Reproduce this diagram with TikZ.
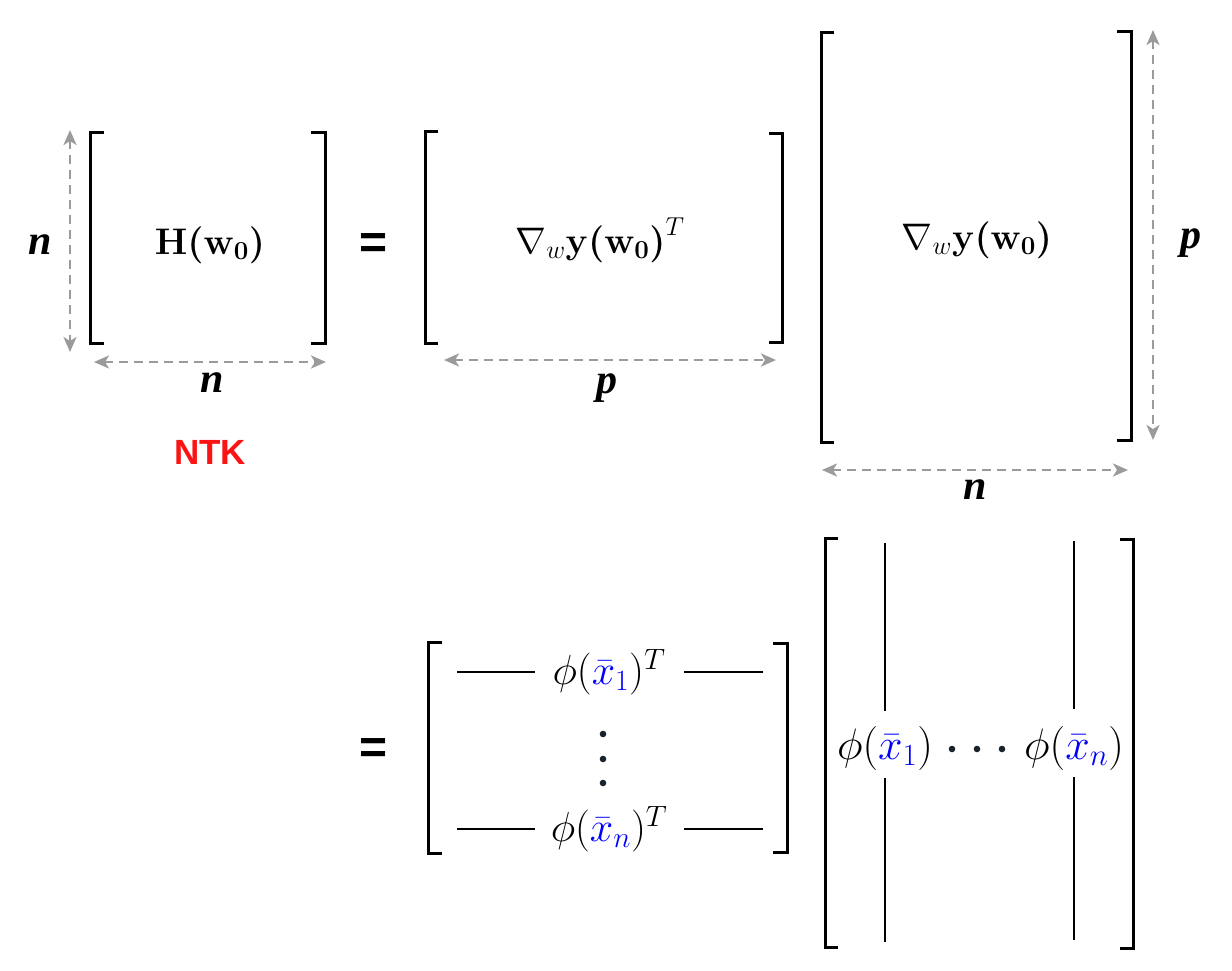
\RequirePackage{fix-cm}
\documentclass[tikz,border=0pt]{standalone}
\usepackage{amsmath}
\usepackage{fontspec}
\setmainfont{Liberation Serif}
\newfontfamily\ntkfont{Liberation Sans}
\usetikzlibrary{arrows.meta}
\definecolor{dimgray}{RGB}{155,155,155}
\definecolor{dotcol}{RGB}{25,35,45}
\definecolor{ntkred}{RGB}{250,20,20}
\newcommand{\Hw}{\boldsymbol{\mathbf{H}(\mathbf{w}_{\mathbf{0}})}}
\newcommand{\yw}{\boldsymbol{\mathbf{y}(\mathbf{w}_{\mathbf{0}})}}
\begin{document}
\begin{tikzpicture}[x=1pt,y=-1pt,
  brk/.style={line width=3pt, line join=miter},
  dimarrow/.style={draw=dimgray, line width=2.6pt, dash pattern=on 9pt off 6pt,
    {Stealth[length=15pt,width=13pt,inset=4pt,fill=dimgray]}-{Stealth[length=15pt,width=13pt,inset=4pt,fill=dimgray]}},
  mtext/.style={font=\fontsize{37}{44}\selectfont, inner sep=0pt},
  rowtext/.style={font=\fontsize{42}{50}\selectfont, inner sep=0pt},
  coltext/.style={font=\fontsize{44}{52}\selectfont, inner sep=0pt},
  dimlbl/.style={font=\bfseries\itshape\fontsize{42}{50}\selectfont, inner sep=0pt},
  eqsign/.style={font=\ntkfont\bfseries\fontsize{48}{56}\selectfont, inner sep=0pt},
  rowline/.style={line width=2.7pt},
  colline/.style={line width=2.6pt},
  dotc/.style={fill=dotcol, draw=none}
]
\useasboundingbox (0,0) rectangle (1232,970);

% ---------- H(w0) ----------
\draw[brk] (104,132) -- (90,132) -- (90,343) -- (104,343);
\draw[brk] (311,132) -- (325,132) -- (325,343) -- (311,343);
\node[mtext] (Hmat) at (210,245) {$\Hw$};
\coordinate (Hvt) at (70,130);
\coordinate (Hvb) at (70,352);
\draw[dimarrow] (Hvt) -- (Hvb);
\coordinate (Hhl) at (94,362);
\coordinate (Hhr) at (326,362);
\draw[dimarrow] (Hhl) -- (Hhr);
\node[dimlbl] (Hn1) at (40,245) {n};
\node[dimlbl] (Hn2) at (212,383) {n};
\node[font=\ntkfont\bfseries\fontsize{35}{42}\selectfont, text=ntkred, inner sep=0pt] (NTK) at (210,452) {NTK};

\node[eqsign] (eq1) at (374,246) {=};

% ---------- grad^T ----------
\draw[brk] (438,131) -- (425,131) -- (425,343) -- (438,343);
\draw[brk] (769,133) -- (782,133) -- (782,342) -- (769,342);
\node[mtext] (GT) at (600,240) {$\nabla_{w}\yw^{T}$};
\coordinate (Gl) at (444,360);
\coordinate (Gr) at (776,360);
\draw[dimarrow] (Gl) -- (Gr);
\node[dimlbl] (Gp) at (607,388) {p};

% ---------- grad ----------
\draw[brk] (834,32) -- (821,32) -- (821,442) -- (834,442);
\draw[brk] (1117,31) -- (1131,31) -- (1131,440) -- (1117,440);
\node[mtext] (G) at (977,240) {$\nabla_{w}\yw$};
\coordinate (Bvt) at (1153,30);
\coordinate (Bvb) at (1153,440);
\draw[dimarrow] (Bvt) -- (Bvb);
\node[dimlbl] (Bp) at (1191,243) {p};
\coordinate (Bhl) at (822,470);
\coordinate (Bhr) at (1128,470);
\draw[dimarrow] (Bhl) -- (Bhr);
\node[dimlbl] (Bn) at (975,490) {n};

% ---------- second line ----------
\node[eqsign] (eq2) at (374,751) {=};

% row matrix
\draw[brk] (442,642) -- (428,642) -- (428,853) -- (442,853);
\draw[brk] (773,643) -- (787,643) -- (787,852) -- (773,852);
\node[rowtext] (r1) at (609,672) {$\phi(\textcolor{blue}{\bar{x}_{1}})^{T}$};
\node[rowtext] (rn) at (609,829) {$\phi(\textcolor{blue}{\bar{x}_{n}})^{T}$};
\coordinate (r1a) at (457,672);
\coordinate (r1b) at (535,672);
\coordinate (r1c) at (684,672);
\coordinate (r1d) at (763,672);
\draw[rowline] (r1a) -- (r1b);
\draw[rowline] (r1c) -- (r1d);
\coordinate (rna) at (457,829);
\coordinate (rnb) at (535,829);
\coordinate (rnc) at (684,829);
\coordinate (rnd) at (763,829);
\draw[rowline] (rna) -- (rnb);
\draw[rowline] (rnc) -- (rnd);
\fill[dotc] (603,734) circle (3.3pt);
\fill[dotc] (603,759) circle (3.3pt);
\fill[dotc] (603,783) circle (3.3pt);

% column matrix
\draw[brk] (838,538) -- (825,538) -- (825,947) -- (838,947);
\draw[brk] (1120,539) -- (1133,539) -- (1133,948) -- (1120,948);
\node[coltext] (c1) at (885,748) {$\phi(\textcolor{blue}{\bar{x}_{1}})$};
\node[coltext] (cn) at (1074,748) {$\phi(\textcolor{blue}{\bar{x}_{n}})$};
\coordinate (c1a) at (885,543);
\coordinate (c1b) at (885,711);
\coordinate (c1c) at (885,778);
\coordinate (c1d) at (885,942);
\draw[colline] (c1a) -- (c1b);
\draw[colline] (c1c) -- (c1d);
\coordinate (cna) at (1074,541);
\coordinate (cnb) at (1074,709);
\coordinate (cnc) at (1074,777);
\coordinate (cnd) at (1074,940);
\draw[colline] (cna) -- (cnb);
\draw[colline] (cnc) -- (cnd);
\fill[dotc] (952,749) circle (3.3pt);
\fill[dotc] (977,749) circle (3.3pt);
\fill[dotc] (1002,749) circle (3.3pt);
\end{tikzpicture}
\end{document}
